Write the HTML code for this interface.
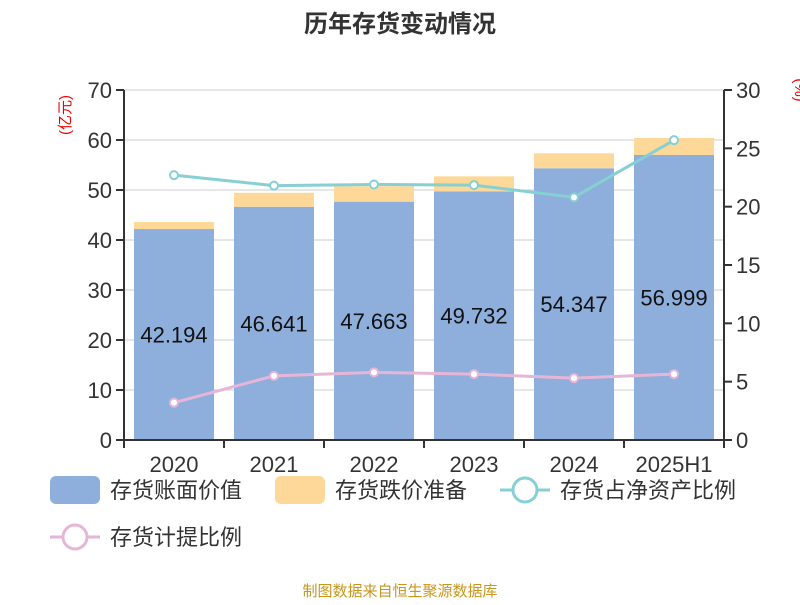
<!DOCTYPE html>
<html><head><meta charset="utf-8"><style>
body{margin:0;background:#fff;font-family:"Liberation Sans","Noto Sans CJK SC",sans-serif}
</style></head><body>
<svg width="800" height="600" xmlns="http://www.w3.org/2000/svg" font-family="Liberation Sans, Noto Sans CJK SC, sans-serif">
<text x="400" y="32" text-anchor="middle" font-size="24" font-weight="bold" fill="#333">历年存货变动情况</text>
<text transform="translate(70,115) rotate(-90)" text-anchor="middle" font-size="15" fill="#e00">(亿元)</text>
<text transform="translate(795,90) rotate(90)" text-anchor="middle" font-size="15" fill="#e00">(%)</text>
<g id="grid"></g><g id="bars"></g><g id="lines"></g><g id="axes"></g>
<g font-size="22" fill="#333">
<rect x="50" y="476" width="50" height="28" rx="6" fill="#8eaedb"/>
<text x="110" y="498">存货账面价值</text>
<rect x="275" y="476" width="50" height="28" rx="6" fill="#fdd898"/>
<text x="335" y="498">存货跌价准备</text>
<line x1="500" y1="490" x2="550" y2="490" stroke="#86d0d4" stroke-width="3"/>
<circle cx="525" cy="490" r="12" fill="#fff" stroke="#86d0d4" stroke-width="3"/>
<text x="560" y="498">存货占净资产比例</text>
<line x1="50" y1="537" x2="100" y2="537" stroke="#e6b6d8" stroke-width="3"/>
<circle cx="75" cy="537" r="12" fill="#fff" stroke="#e6b6d8" stroke-width="3"/>
<text x="110" y="545">存货计提比例</text>
</g>
<text x="400" y="596" text-anchor="middle" font-size="15" fill="#c8961e">制图数据来自恒生聚源数据库</text>
</svg>
<script>
const categories=["2020","2021","2022","2023","2024","2025H1"];
const bookValue=[42.194,46.641,47.663,49.732,54.347,56.999];
const reserve=[1.4,2.8,3.1,3.0,3.0,3.4];
const netAssetRatio=[22.7,21.8,21.9,21.85,20.8,25.7];
const provisionRatio=[3.2,5.5,5.8,5.65,5.3,5.65];
const leftTicks=[0,10,20,30,40,50,60,70];
const rightTicks=[0,5,10,15,20,25,30];
const NS="http://www.w3.org/2000/svg";
const X0=124,X1=724,Y0=440,Y1=90;
const band=(X1-X0)/categories.length;
const xc=i=>X0+band*(i+0.5);
const yL=v=>Y0-(Y0-Y1)*v/70;
const yR=v=>Y0-(Y0-Y1)*v/30;
function mk(tag,attrs,parent){const e=document.createElementNS(NS,tag);for(const k in attrs)e.setAttribute(k,attrs[k]);parent.appendChild(e);return e;}
const grid=document.getElementById('grid'),bars=document.getElementById('bars'),lines=document.getElementById('lines'),axes=document.getElementById('axes');
leftTicks.forEach(t=>{const y=yL(t);
 const g=mk('line',{x1:X0,x2:X1,y1:y,y2:y,stroke:'#ccc','stroke-width':1},grid);
 
 
 mk('line',{x1:X0-8,x2:X0,y1:y,y2:y,stroke:'#333','stroke-width':2},axes);
 const tx=mk('text',{x:X0-12,y:y+8,'text-anchor':'end','font-size':22,fill:'#333'},axes);tx.textContent=t;
 
 });
rightTicks.forEach(t=>{const y=yR(t);
 mk('line',{x1:X1,x2:X1+8,y1:y,y2:y,stroke:'#333','stroke-width':2},axes);
 const tx=mk('text',{x:X1+12,y:y+8,'font-size':22,fill:'#333'},axes);tx.textContent=t;
 
 });
mk('line',{x1:X0,x2:X0,y1:Y1,y2:Y0,stroke:'#333','stroke-width':2},axes);
mk('line',{x1:X1,x2:X1,y1:Y1,y2:Y0,stroke:'#333','stroke-width':2},axes);
mk('line',{x1:X0,x2:X1,y1:Y0,y2:Y0,stroke:'#333','stroke-width':2},axes);
categories.forEach((c,i)=>{
 const x=xc(i),w=80;
 const b=mk('rect',{x:x-w/2,y:yL(bookValue[i]),width:w,height:Y0-yL(bookValue[i]),fill:'#8eaedb'},bars);
 
 
 const r=mk('rect',{x:x-w/2,y:yL(bookValue[i]+reserve[i]),width:w,height:yL(bookValue[i])-yL(bookValue[i]+reserve[i]),fill:'#fdd898'},bars);
 
 
 const lb=mk('text',{x:x,y:yL(bookValue[i]/2)+8,'text-anchor':'middle','font-size':22,fill:'#111'},bars);lb.textContent=bookValue[i].toFixed(3);
 
 
 mk('line',{x1:X0+band*i,x2:X0+band*i,y1:Y0,y2:Y0+8,stroke:'#333','stroke-width':2},axes);
 const ct=mk('text',{x:x,y:Y0+32,'text-anchor':'middle','font-size':22,fill:'#333'},axes);ct.textContent=c;
 
 
});
mk('line',{x1:X1,x2:X1,y1:Y0,y2:Y0+8,stroke:'#333','stroke-width':2},axes);
function series(vals,color,name){
 const p=mk('polyline',{points:vals.map((v,i)=>xc(i)+','+yR(v)).join(' '),fill:'none',stroke:color,'stroke-width':3},lines);
 
 
 vals.forEach((v,i)=>{const c=mk('circle',{cx:xc(i),cy:yR(v),r:4,fill:'#fff',stroke:color,'stroke-width':2},lines);
  
  });
}
series(netAssetRatio,'#86d0d4','net-asset-ratio');
series(provisionRatio,'#e6b6d8','provision-ratio');
</script>
</body></html>
